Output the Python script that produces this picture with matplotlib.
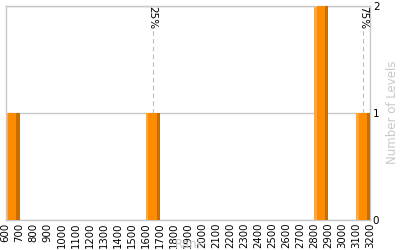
import matplotlib
matplotlib.use("Agg")
import matplotlib.pyplot as plt
import numpy as np

# Data
bin_lefts = [600, 1600, 2800, 3100]
level_counts = [1, 1, 2, 1]
bin_width = 100
percentile_labels = ["25%", "75%"]
percentile_ranks = [1650, 3150]
x_ticks = list(range(600, 3201, 100))
y_ticks = [0, 1, 2]

GREY = "#C8C8C8"
fig = plt.figure(figsize=(4, 2.5), dpi=100)
ax = fig.add_axes([5.5/400, 1 - 220/250, (370 - 5.5)/400, (220 - 5.5)/250])

# bars with three-tone shading
light, main, dark = "#FFA63F", "#FF8C00", "#C76E00"
for left, h in zip(bin_lefts, level_counts):
    ax.bar(left, h, width=bin_width, align="edge", color=light, linewidth=0, zorder=2)
    ax.bar(left + bin_width*0.2, h, width=bin_width*0.6, align="edge", color=main, linewidth=0, zorder=3)
    ax.bar(left + bin_width*0.78, h, width=bin_width*0.22, align="edge", color=dark, linewidth=0, zorder=3)

# percentile markers
for lab, r in zip(percentile_labels, percentile_ranks):
    idx = [i for i, l in enumerate(bin_lefts) if l <= r < l + bin_width]
    base = level_counts[idx[0]] if idx else 0
    ax.plot([r, r], [base, 1.8], color="#BBBBBB", lw=0.8, ls=(0, (4, 3)), zorder=1)
    ax.text(r, 1.995, lab, rotation=270, ha="center", va="top", fontsize=7.5, color="black", zorder=4)

ax.set_xlim(600, 3200)
ax.set_ylim(0, 2)
ax.set_xticks(x_ticks)
ax.set_xticklabels([str(t) for t in x_ticks], rotation=90, fontsize=7.3)
ax.set_yticks(y_ticks)
ax.set_yticklabels([str(t) for t in y_ticks], fontsize=7.5)
ax.yaxis.tick_right()
ax.tick_params(length=0, pad=2)
ax.yaxis.grid(True, color=GREY, lw=1, zorder=0)
ax.set_axisbelow(True)
for s in ax.spines.values():
    s.set_color(GREY)
    s.set_linewidth(1)

fig.text(190/400, 1 - 245/250, "Rank", ha="center", va="center", fontsize=8.5, color=GREY)
fig.text(392/400, 1 - 112/250, "Number of Levels", ha="center", va="center", rotation=90, fontsize=8.5, color=GREY)

fig.savefig("out.png", dpi=100)
